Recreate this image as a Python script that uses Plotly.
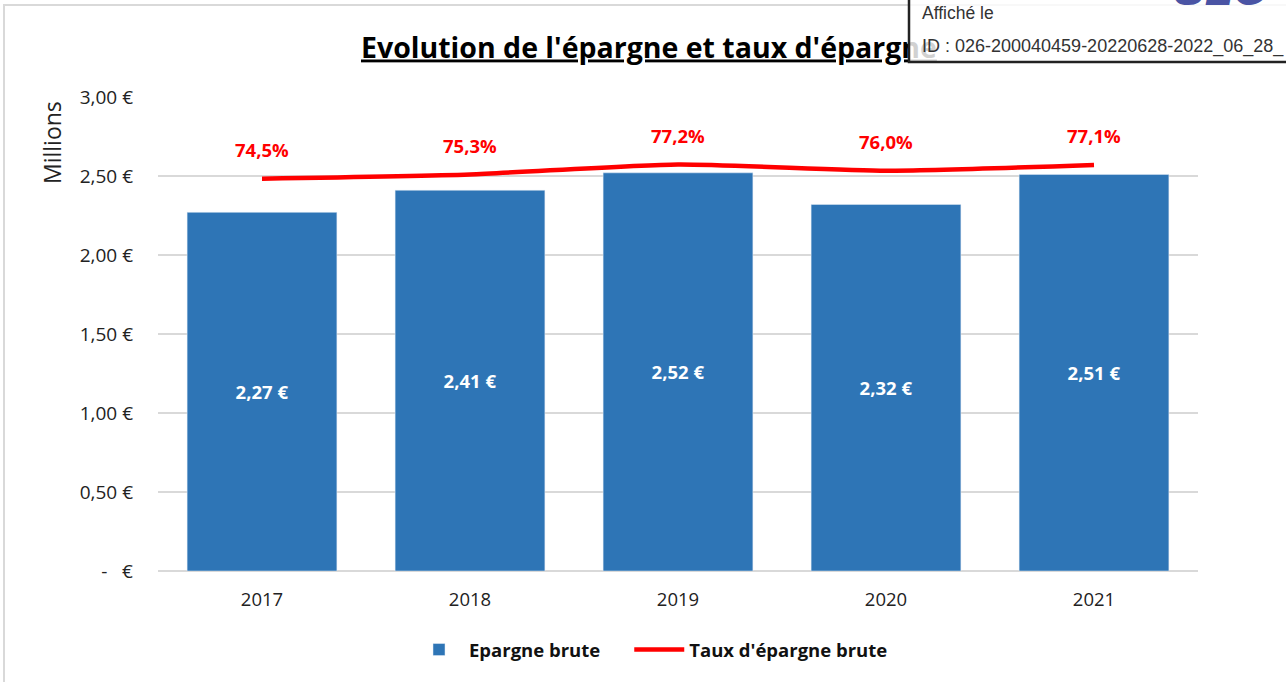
import plotly.graph_objects as go

# ---- data ----
years = ["2017", "2018", "2019", "2020", "2021"]
epargne_brute = [2.27, 2.41, 2.52, 2.32, 2.51]          # millions €
taux_epargne = [0.745, 0.753, 0.772, 0.760, 0.771]     # fraction
y_tick_vals = [0, 0.5, 1.0, 1.5, 2.0, 2.5, 3.0]
y_tick_text = ["-   €", "0,50 €", "1,00 €", "1,50 €", "2,00 €", "2,50 €", "3,00 €"]

FONT = "Open Sans"
W, H = 1286, 682
L, R, T, B = 158, 88, 97, 111
PW, PH = W - L - R, H - T - B


def px_x(px):
    return (px - L) / PW


def px_y(py):
    return (H - B - py) / PH


bar_text = [f"{v:.2f}".replace(".", ",") + " €" for v in epargne_brute]
pct_text = [f"{v*100:.1f}".replace(".", ",") + "%" for v in taux_epargne]

NBSP = "\u00a0"

fig = go.Figure()
fig.add_trace(go.Bar(
    x=years, y=epargne_brute, name="Epargne brute" + NBSP * 5,
    marker=dict(color="#2E75B6"),
    text=bar_text, textposition="inside", insidetextanchor="middle",
    textfont=dict(family=FONT, size=18.5, color="white", weight="bold"),
    textangle=0,
))
fig.add_trace(go.Scatter(
    x=years, y=taux_epargne, name="Taux d'épargne brute", yaxis="y2",
    mode="lines", line=dict(color="#FF0000", width=4.5, shape="spline", smoothing=0.6),
))

annotations = []
for i, (v, t) in enumerate(zip(taux_epargne, pct_text)):
    annotations.append(dict(
        x=i, y=v, xref="x", yref="y2", text=f"<b>{t}</b>", showarrow=False,
        yshift=29, font=dict(family=FONT, size=18.5, color="#FF0000"),
    ))

# "Millions" unit label at the top of the axis
annotations.append(dict(
    x=px_x(52), y=px_y(143), xref="paper", yref="paper", text="Millions",
    textangle=-90, showarrow=False, xanchor="center", yanchor="middle",
    font=dict(family=FONT, size=23, color="#222222"),
))
# overlay stamp texts (on top of the box shape)
annotations.append(dict(
    x=px_x(920), y=px_y(13), xref="paper", yref="paper",
    text="Affiché le", showarrow=False, xanchor="left", yanchor="middle",
    font=dict(family="Liberation Sans", size=17.5, color="#333333"),
))
annotations.append(dict(
    x=px_x(920), y=px_y(47), xref="paper", yref="paper",
    text="ID : 026-200040459-20220628-2022_06_28_", showarrow=False,
    xanchor="left", yanchor="middle",
    font=dict(family="Liberation Sans", size=18, color="#333333"),
))
annotations.append(dict(
    x=px_x(1172), y=px_y(-11), xref="paper", yref="paper",
    text="<b><i>SLO</i></b>", showarrow=False, xanchor="left", yanchor="middle",
    font=dict(family="Liberation Sans", size=46, color="#4A54A4"),
))

shapes = [
    # chart frame
    dict(type="rect", xref="paper", yref="paper",
         x0=px_x(4), x1=px_x(1400), y0=px_y(800), y1=px_y(5),
         line=dict(color="#D9D9D9", width=2), fillcolor="rgba(0,0,0,0)", layer="below"),
    # title (shape label, so that the stamp box can cover its end)
    dict(type="rect", xref="paper", yref="paper",
         x0=px_x(358), x1=px_x(1000), y0=px_y(70), y1=px_y(26),
         line=dict(width=0), fillcolor="rgba(0,0,0,0)", layer="above",
         label=dict(text="<b><u>Evolution de l'épargne et taux d'épargne</u></b>",
                    textposition="middle left", padding=0,
                    font=dict(family=FONT, size=28.5, color="#000000"))),
    # stamp box
    dict(type="rect", xref="paper", yref="paper",
         x0=px_x(909), x1=px_x(1400), y0=px_y(62), y1=px_y(-30),
         line=dict(color="#222222", width=2.5), fillcolor="rgba(255,255,255,0.82)",
         layer="above"),
]

fig.update_layout(
    width=W, height=H,
    margin=dict(l=L, r=R, t=T, b=B, autoexpand=False),
    paper_bgcolor="white", plot_bgcolor="white",
    font=dict(family=FONT, size=16, color="#222222"),
    bargap=0.28,
    showlegend=True,
    legend=dict(
        orientation="h", x=px_x(651), xanchor="center", y=px_y(650), yanchor="middle",
        font=dict(family=FONT, size=18.5, color="#111111", weight="bold"),
        itemwidth=50, traceorder="normal",
    ),
    xaxis=dict(
        type="category",
        showgrid=False, showline=False, ticks="", ticklabelstandoff=15,
        tickfont=dict(family=FONT, size=18.5, color="#222222"),
    ),
    yaxis=dict(
        range=[0, 3.0], tickvals=y_tick_vals, ticktext=y_tick_text,
        showgrid=True, gridcolor="#D9D9D9", gridwidth=1.5,
        zeroline=True, zerolinecolor="#D9D9D9", zerolinewidth=1.5,
        showline=False, ticks="", ticklabelstandoff=24,
        tickfont=dict(family=FONT, size=19, color="#222222"),
    ),
    yaxis2=dict(
        range=[0, 0.9], overlaying="y", side="right", visible=False,
    ),
    annotations=annotations,
    shapes=shapes,
)

fig.write_html("out.html", config={"displayModeBar": False},
               post_script="document.body.style.margin='0px';")
